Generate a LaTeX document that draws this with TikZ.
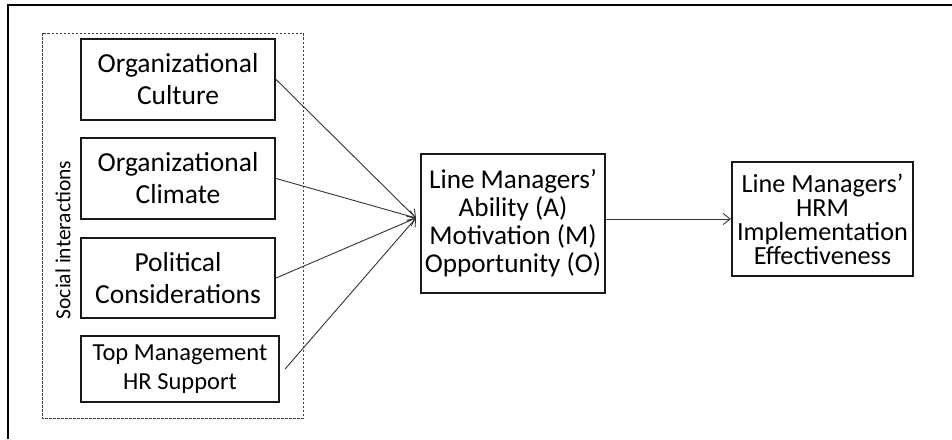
\documentclass[tikz,border=0pt]{standalone}
\usepackage{fontspec}
\setmainfont{Carlito}
\usetikzlibrary{arrows.meta}

\begin{document}
\begin{tikzpicture}[
  x=1pt,
  y=-1pt,
  line join=miter,
  frame/.style={draw=black,line width=2.4pt},
  group/.style={draw=black!75,line width=0.9pt,dash pattern=on 2.5pt off 1.5pt},
  factor/.style={draw=black!90,line width=2.2pt,align=center,inner sep=0pt,
    font=\fontsize{27.5}{32}\selectfont},
  amo/.style={draw=black!90,line width=2.2pt,align=center,inner sep=0pt,
    font=\fontsize{27.2}{28}\selectfont},
  link/.style={draw=black!80,line width=0.9pt,-{Straight Barb[length=7pt,width=11pt]}}
]
  \useasboundingbox (0,0) rectangle (952,439);

  % Open frame along the top and left edges.
  \draw[frame] (8,439) -- (8,5) -- (952,5);

  % Social context grouped in a dashed box.
  \draw[group] (42,33) rectangle (303,418);
  \node[rotate=90,font=\fontsize{21.5}{24}\selectfont] (social) at (63,240) {Social interactions};

  % Antecedent factors.
  \node[factor,minimum width=194,minimum height=81] (culture) at (178,79.5)
    {Organizational\\Culture};
  \node[factor,minimum width=194,minimum height=81] (climate) at (178,178.5)
    {Organizational\\Climate};
  \node[factor,minimum width=194,minimum height=80] (politics) at (178,278)
    {Political\\Considerations};
  \node[factor,minimum width=198,minimum height=66,font=\fontsize{24.5}{29}\selectfont]
    (topmgmt) at (180,369) {Top Management\\HR Support};

  % AMO of line managers and the implementation outcome.
  \node[amo,minimum width=184,minimum height=139] (ability) at (513,223.5)
    {Line Managers'\\Ability (A)\\Motivation (M)\\Opportunity (O)};
  \node[amo,minimum width=181,minimum height=114,font=\fontsize{26.2}{24}\selectfont]
    (effect) at (822.5,219)
    {Line Managers'\\HRM\\Implementation\\Effectiveness};

  % All four factors meet just in front of the AMO box.
  \coordinate (hub) at (416,218);
  \foreach \f in {culture,climate,politics} {
    \draw[link] (\f.east) -- (hub);
  }
  \draw[link] ([xshift=5pt]topmgmt.east) -- (hub);

  \draw[link] (ability.east |- effect.west) -- (effect.west);
\end{tikzpicture}
\end{document}
